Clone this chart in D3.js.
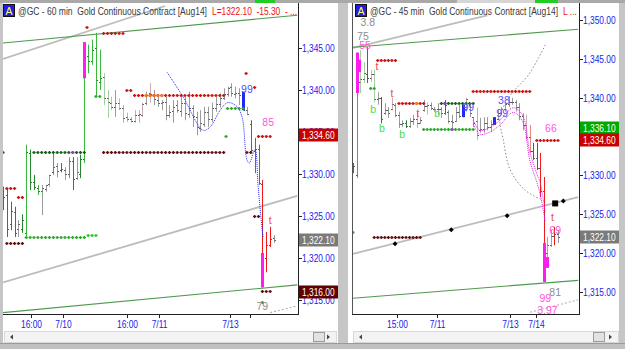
<!DOCTYPE html>
<html>
<head>
<meta charset="utf-8">
<script src="https://cdn.jsdelivr.net/npm/d3@7"></script>
<style>
  body { margin: 0; background: #c6c6c6; }
  svg { display: block; font-family: 'Liberation Sans', Arial, sans-serif; }
  .pre { white-space: pre; }
</style>
</head>
<body>
<script>
// ---- 60 min panel: one entry per bar ----
const leftHigh = [
  1328.5, 1328.3, 1326.7, 1326.1, 1324.5, 1325.2, 1333.5, 1332.9, 1329.9, 1328.7,
  1328.7, 1328.7, 1329.9, 1332.5, 1331.3, 1331.3, 1330.8, 1332.0, 1332.0, 1332.0,
  1332.3, 1345.7, 1345.4, 1346.0, 1346.8, 1344.8, 1342.0, 1340.0, 1339.2, 1340.0,
  1339.0, 1338.2, 1337.3, 1336.8, 1337.6, 1337.6, 1338.5, 1339.8, 1340.8, 1340.0,
  1339.2, 1338.8, 1339.2, 1338.2, 1338.8, 1338.8, 1339.2, 1339.2, 1339.8, 1338.2,
  1337.4, 1337.6, 1338.0, 1338.0, 1338.5, 1339.2, 1339.6, 1340.2, 1340.4, 1340.8,
  1340.4, 1340.2, 1339.8, 1338.0, 1336.4, 1334.3, 1333.5, 1329.3, 1323.1, 1323.7,
  1322.7
];
const leftLow = [
  1325.7, 1322.5, 1323.3, 1322.5, 1322.5, 1323.0, 1322.5, 1328.1, 1328.1, 1327.5,
  1325.1, 1327.9, 1328.5, 1329.9, 1329.6, 1330.2, 1329.3, 1329.5, 1328.1, 1329.3,
  1329.5, 1331.3, 1342.0, 1343.0, 1339.2, 1340.0, 1338.2, 1336.7, 1337.6, 1336.8,
  1337.6, 1336.1, 1336.2, 1336.1, 1336.1, 1336.1, 1336.8, 1338.2, 1338.5, 1338.2,
  1338.0, 1337.6, 1336.4, 1336.7, 1336.1, 1337.3, 1336.8, 1336.4, 1336.7, 1335.6,
  1334.6, 1335.0, 1335.6, 1335.6, 1336.2, 1337.4, 1337.9, 1338.8, 1339.2, 1339.2,
  1339.0, 1338.2, 1337.6, 1337.0, 1332.5, 1330.1, 1328.7, 1316.5, 1318.3, 1321.3,
  1321.8
];
const leftOpen = [
  1326.5, 1327.5, 1324.0, 1325.5, 1323.5, 1323.5, 1323.0, 1332.5, 1329.0, 1328.3,
  1328.0, 1328.2, 1328.8, 1330.2, 1331.0, 1330.5, 1330.5, 1330.0, 1331.5, 1329.5,
  1330.0, 1331.8, 1344.0, 1343.5, 1345.0, 1341.0, 1341.5, 1339.0, 1338.5, 1338.0,
  1338.5, 1337.8, 1336.8, 1336.5, 1336.3, 1337.0, 1337.0, 1338.5, 1339.6, 1339.5,
  1338.8, 1338.4, 1338.6, 1337.0, 1337.5, 1338.2, 1337.5, 1338.5, 1337.2, 1337.8,
  1336.8, 1335.5, 1336.0, 1337.4, 1336.5, 1337.8, 1338.3, 1339.0, 1339.5, 1340.3,
  1339.5, 1339.6, 1339.5, 1337.6, 1336.0, 1332.7, 1333.0, 1328.8, 1320.0, 1321.6,
  1322.4
];
const leftClose = [
  1327.3, 1323.5, 1325.6, 1323.0, 1324.0, 1324.5, 1332.6, 1329.0, 1328.5, 1328.0,
  1328.3, 1328.7, 1329.9, 1330.8, 1330.4, 1330.6, 1330.0, 1331.6, 1329.4, 1330.2,
  1331.8, 1344.2, 1343.4, 1344.8, 1341.2, 1341.4, 1339.0, 1338.6, 1338.0, 1338.4,
  1337.8, 1336.7, 1336.5, 1336.3, 1337.0, 1337.1, 1338.3, 1339.4, 1339.5, 1338.9,
  1338.4, 1338.6, 1337.0, 1337.4, 1338.0, 1337.6, 1338.4, 1337.3, 1337.9, 1336.9,
  1335.6, 1336.1, 1337.4, 1336.5, 1337.9, 1338.3, 1339.0, 1339.5, 1340.2, 1339.6,
  1339.6, 1339.4, 1337.6, 1337.2, 1332.8, 1333.0, 1328.9, 1320.2, 1321.5, 1322.3,
  1322.1
];
const leftState = ('DDDDkDgDDg' + 'kkkgkDkgDk' + 'Dggggglllk' + 'lppppppkpk' +
  'kkkkkkkkkk' + 'kkkkkkkkkk' + 'kkkkmmmrrr' + 'k').split('');

// ---- 45 min panel ----
const rightHigh = [
  1331.6, 1345.8, 1346.1, 1344.6, 1346.5, 1343.6, 1343.6, 1340.7, 1340.1, 1339.3,
  1338.8, 1340.0, 1339.3, 1338.2, 1337.1, 1337.1, 1337.4, 1337.8, 1338.2, 1337.5,
  1339.7, 1339.4, 1339.4, 1338.8, 1339.3, 1338.8, 1339.7, 1338.4, 1337.8, 1338.8,
  1339.1, 1339.1, 1340.0, 1339.3, 1337.5, 1338.7, 1337.4, 1337.5, 1337.5, 1337.1,
  1337.5, 1338.4, 1338.8, 1339.4, 1340.1, 1340.0, 1339.7, 1339.3, 1338.0, 1337.8,
  1336.5, 1334.2, 1334.2, 1332.9, 1329.8, 1322.1, 1323.0, 1323.4, 1323.0
];
const rightLow = [
  1330.3, 1329.7, 1340.6, 1341.9, 1341.9, 1342.0, 1339.4, 1339.1, 1336.7, 1337.8,
  1337.4, 1338.4, 1337.5, 1336.1, 1336.2, 1336.1, 1336.1, 1336.5, 1336.1, 1336.7,
  1338.2, 1337.8, 1338.4, 1338.2, 1337.8, 1337.4, 1337.8, 1336.7, 1336.1, 1336.9,
  1337.4, 1337.5, 1338.2, 1337.5, 1336.2, 1334.6, 1335.5, 1335.5, 1335.8, 1335.6,
  1336.5, 1337.1, 1337.8, 1338.2, 1338.8, 1339.1, 1338.2, 1337.1, 1335.8, 1334.6,
  1332.9, 1332.0, 1330.7, 1327.2, 1316.3, 1319.1, 1320.8, 1321.0, 1321.3
];
const rightOpen = [
  1330.5, 1330.0, 1342.0, 1342.4, 1343.0, 1342.6, 1343.0, 1339.8, 1340.0, 1338.0,
  1338.4, 1338.6, 1339.0, 1337.8, 1336.6, 1336.8, 1336.4, 1337.0, 1337.2, 1336.8,
  1338.4, 1338.9, 1339.0, 1338.6, 1338.5, 1338.6, 1338.0, 1338.2, 1337.0, 1337.0,
  1338.2, 1337.7, 1338.5, 1339.0, 1337.5, 1337.0, 1335.8, 1336.0, 1336.8, 1336.2,
  1336.6, 1337.2, 1338.0, 1338.5, 1339.2, 1339.4, 1339.5, 1338.8, 1337.6, 1336.5,
  1335.0, 1333.2, 1332.3, 1331.0, 1328.0, 1320.0, 1321.0, 1322.2, 1322.4
];
const rightClose = [
  1331.2, 1345.0, 1342.4, 1343.2, 1342.6, 1343.0, 1339.8, 1340.0, 1337.2, 1338.4,
  1338.0, 1339.2, 1337.8, 1336.6, 1336.8, 1336.4, 1337.0, 1337.2, 1336.7, 1337.1,
  1338.9, 1339.0, 1338.7, 1338.5, 1338.6, 1338.0, 1339.0, 1337.0, 1336.9, 1338.2,
  1337.7, 1338.3, 1339.8, 1338.0, 1336.8, 1335.2, 1336.0, 1336.8, 1336.2, 1336.6,
  1337.0, 1338.0, 1338.5, 1339.2, 1339.4, 1339.5, 1338.8, 1337.6, 1336.5, 1335.0,
  1333.2, 1332.3, 1331.0, 1328.0, 1316.8, 1321.0, 1322.2, 1322.4, 1322.1
];
const rightState = ('DgllDllkDk' + 'kpkkkDkkpk' + 'klkkkkDkkk' + 'kkpkkpkkkk' +
  'kkkkkkkkkp' + 'PrrrrPPrk').split('');

// highlighted bar segments: [bar, top, bottom, kind]
const leftSpikes = [[21, 1345.7, 1341.4, 'mag'], [67, 1320.6, 1316.5, 'mag'], [62, 1339.8, 1337.6, 'blue']];
const rightSpikes = [
  [1, 1345.8, 1340.6, 'mag'], [1.8, 1344.9, 1343.3, 'mag'], [54, 1321.3, 1316.3, 'mag'],
  [54.9, 1319.5, 1318.1, 'mag'], [31, 1339.1, 1337.5, 'blue'], [40, 1337.5, 1336.5, 'blue']
];

// dotted level rows: [fromBar, toBar, price, kind]
const leftMarks = [
  [1, 3, 1328.3, 'res'], [4, 5, 1327.3, 'res'], [1, 5, 1321.8, 'base'],
  [6, 21, 1322.5, 'sup'], [22, 24, 1322.7, 'fresh'], [0, 0, 1332.6, 'hold'],
  [8, 21, 1332.6, 'hold'], [18, 18, 1332.6, 'pivot'], [26, 57, 1332.6, 'base'],
  [63, 64, 1332.6, 'base'], [24, 25, 1339.3, 'sup'], [32, 33, 1340.0, 'res'],
  [34, 57, 1339.4, 'res'], [37, 41, 1339.4, 'alt'], [26, 31, 1346.8, 'res'],
  [21.7, 21.7, 1347.5, 'res'], [58, 62, 1337.9, 'sup'], [57.6, 57.6, 1334.5, 'sup'],
  [62.8, 62.8, 1342.0, 'res'], [65, 65, 1340.4, 'res'], [66, 69, 1334.5, 'res'],
  [65, 66, 1325.0, 'base'], [67, 69, 1316.1, 'base'], [67, 67, 1314.8, 'sup']
];
const rightMarks = [
  [7, 12, 1344.9, 'res'], [13, 20, 1339.3, 'res'], [18, 18, 1339.3, 'alt'],
  [25, 34, 1339.3, 'hold'], [26, 26, 1339.3, 'pivot'], [20, 34, 1336.0, 'sup'],
  [28, 28, 1336.0, 'pivot'], [5, 6, 1341.2, 'sup'], [34, 50, 1340.9, 'res'],
  [52, 58, 1334.6, 'res'], [6, 19, 1322.1, 'base'], [0, 0, 1322.7, 'sup']
];

// study labels: [bar, price, text, kind]
const leftNotes = [
  [63, 1340.1, '99', 'cnt'], [68.5, 1336.2, '85', 'pct'], [69, 1324.5, 't', 't'], [67, 1314.2, '79', 'gray']
];
const rightNotes = [
  [6.8, 1344.0, 't', 't'], [11, 1340.6, 't', 't'], [18.4, 1338.0, 't', 't'], [56.4, 1324.6, 't', 't'],
  [5.7, 1338.5, 'b', 'b'], [8.2, 1336.0, 'b', 'b'], [13.9, 1335.3, 'b', 'b'], [23.8, 1338.0, 'b', 'b'],
  [32.6, 1338.8, '99', 'cnt'], [42.7, 1339.7, '38', 'cnt'], [42.2, 1338.0, '99', 'cnt'],
  [56, 1336.1, '66', 'pct'], [57.2, 1323.0, '69', 'pct'],
  [54.4, 1314.2, '99', 'pct'], [57.2, 1314.9, '81', 'gray'], [55, 1312.7, '3.97', 'pct'],
  [4.2, 1349.7, '3.8', 'gray'], [2.8, 1347.9, '75', 'gray'], [3.4, 1346.8, '55', 'pct']
];

// trend lines: [bar1, price1, bar2, price2, kind]
const leftTrends = [
  [0, 1317.1, 76, 1327.4, 'reg'], [0, 1343.7, 41.9, 1350.0, 'reg'],
  [0, 1345.6, 76, 1348.9, 'chan'], [0, 1313.5, 76, 1316.8, 'chan'], [69, 1313.5, 76, 1314.3, 'proj']
];
const rightTrends = [
  [0, 1319.9, 63.7, 1327.2, 'reg'], [0, 1346.4, 38, 1350.6, 'reg'],
  [0, 1346.5, 63.7, 1348.8, 'chan'], [0, 1314.2, 63.7, 1316.5, 'chan'], [50.1, 1312.4, 63.7, 1314.0, 'proj']
];
const rightPivotBar = [11.9, 27.8, 43.6, 59.5];
const rightPivotPrice = [1321.2, 1323.0, 1324.8, 1326.7];
const rightBox = [57.2, 1326.4];

// curves
const leftAvgBar = [42.4, 46.5, 51.7, 53.5, 56.1, 58.1, 60.5, 61.8, 63.0, 63.6, 65.1, 65.9, 66.9, 67.2];
const leftAvgPrice = [1342.1, 1339.2, 1335.2, 1335.6, 1337.6, 1338.5, 1338.0, 1336.7, 1331.7, 1331.3, 1332.9, 1328.5, 1323.6, 1322.5];
const rightArcBar = [54.4, 49.6, 44.5, 41.6, 42.5, 44.5, 48.7, 53.8];
const rightArcPrice = [1346.8, 1342.9, 1340.3, 1337.5, 1334.6, 1330.7, 1328.1, 1326.8];
const rightPinkBar = [34, 36, 38.8, 41.6, 45.3, 47.9, 50.1, 52.1, 53, 54.4];
const rightPinkPrice = [1337.1, 1335.8, 1336.2, 1337.1, 1338.7, 1337.8, 1332.9, 1330.1, 1329.0, 1325.2];
const rightPink2Price = [1336.6, 1335.3, 1335.6, 1336.5, 1338.1, 1337.0, 1331.8, 1329.0, 1327.5, 1324.0];

// axes
const leftTickBar = [7.2, 15.5, 32, 40.3, 58.7, 63.8];
const leftTickLabel = ['16:00', '7/10', '16:00', '7/11', '7/13', ''];
const rightTickBar = [12.5, 23.8, 44.5, 51.8];
const rightTickLabel = ['15:00', '7/11', '7/13', '7/14'];
const leftPriceTicks = [1315, 1320, 1325, 1330, 1335, 1340, 1345];
const rightPriceTicks = [1315, 1320, 1325, 1330, 1335, 1340, 1345, 1350];
const leftFlags = [[1334.6, 'stop'], [1322.1, 'last'], [1316.0, 'low']];
const rightFlags = [[1336.1, 'bid'], [1334.6, 'stop'], [1322.1, 'last']];

const barColor = { D: '#23882b', g: '#38b838', l: '#a3cfa3', k: '#9b9b9b', p: '#c5abb4', m: '#b34747', r: '#f01818', P: '#f08585' };
const markColor = { res: '#c81414', sup: '#2ea82e', fresh: '#22cc22', hold: '#1b5e1b', base: '#5e1010', alt: '#ee7a1e', pivot: '#9a3ad8' };
const noteColor = { t: '#f04848', b: '#44dd44', cnt: '#5050ff', pct: '#ff55dd', gray: '#8c8c8c' };
const flagColor = { stop: '#c80000', last: '#7a7a7a', low: '#600000', bid: '#00a800' };

const svg = d3.select('body').append('svg').attr('width', 625).attr('height', 349);

svg.append('rect').attr('width', 625).attr('height', 349).attr('fill', '#c6c6c6');
// top strip
svg.append('rect').attr('x', 0).attr('y', 0).attr('width', 625).attr('height', 3).attr('fill', '#a9a9a9');
svg.append('rect').attr('x', 255).attr('y', 0).attr('width', 20).attr('height', 3).attr('fill', '#22cc22');
svg.append('rect').attr('x', 457).attr('y', 0).attr('width', 78).attr('height', 3).attr('fill', '#d6d6d6');
svg.append('rect').attr('x', 535).attr('y', 0).attr('width', 23).attr('height', 3).attr('fill', '#22cc22');

const panels = [
  {
    box: [3, 3, 335, 340], plot: [3, 298, 3, 314],
    xDomain: [0, 70], xRange: [3, 274], yDomain: [1315, 1345], yRange: [300, 48],
    high: leftHigh, low: leftLow, open: leftOpen, close: leftClose, state: leftState,
    spikes: leftSpikes, marks: leftMarks, notes: leftNotes, trends: leftTrends,
    tickBar: leftTickBar, tickLabel: leftTickLabel, priceTicks: leftPriceTicks, flags: leftFlags,
    title: '@GC - 60 min  Gold Continuous Contract [Aug14]', titleX: 18, titleLen: 189,
    quote: 'L=1322.10  -15.30  - ...', quoteX: 212, quoteLen: 85,
    scroll: [4, 336], thumb: 313
  },
  {
    box: [348, 3, 271, 340], plot: [352, 579, 3, 314],
    xDomain: [0, 58], xRange: [353, 558], yDomain: [1315, 1350], yRange: [292, 20],
    high: rightHigh, low: rightLow, open: rightOpen, close: rightClose, state: rightState,
    spikes: rightSpikes, marks: rightMarks, notes: rightNotes, trends: rightTrends,
    tickBar: rightTickBar, tickLabel: rightTickLabel, priceTicks: rightPriceTicks, flags: rightFlags,
    title: '@GC - 45 min  Gold Continuous Contract [Aug14]', titleX: 370, titleLen: 188,
    quote: 'L ...', quoteX: 563, quoteLen: 14,
    scroll: [353, 618], thumb: 593
  }
];

panels.forEach((p, k) => {
  const g = svg.append('g');
  const [px0, px1, py0, py1] = p.plot;
  const x = d3.scaleLinear().domain(p.xDomain).range(p.xRange);
  const y = d3.scaleLinear().domain(p.yDomain).range(p.yRange);

  g.append('rect').attr('x', p.box[0]).attr('y', p.box[1]).attr('width', p.box[2]).attr('height', p.box[3]).attr('fill', '#fff');

  const clipId = `clip${k}`;
  svg.append('clipPath').attr('id', clipId)
    .append('rect').attr('x', px0).attr('y', py0).attr('width', px1 - px0).attr('height', py1 - py0);
  const plot = g.append('g').attr('clip-path', `url(#${clipId})`);

  // trend lines
  plot.selectAll('.trend').data(p.trends).join('line')
    .attr('x1', d => x(d[0])).attr('y1', d => y(d[1]))
    .attr('x2', d => x(d[2])).attr('y2', d => y(d[3]))
    .attr('stroke', d => d[4] === 'chan' ? '#4f9a4f' : d[4] === 'reg' ? '#bcbcbc' : '#b0b0b0')
    .attr('stroke-width', d => d[4] === 'reg' ? 1.8 : 1.1)
    .attr('stroke-dasharray', d => d[4] === 'proj' ? '2,2' : null);

  // bars
  const idx = d3.range(p.high.length);
  const px = i => Math.round(x(i)) + 0.5;
  plot.selectAll('.bar').data(idx).join('line')
    .attr('x1', px).attr('x2', px)
    .attr('y1', i => y(p.high[i])).attr('y2', i => y(p.low[i]))
    .attr('stroke', i => barColor[p.state[i]]).attr('stroke-width', 1);
  plot.selectAll('.open').data(idx).join('line')
    .attr('x1', i => px(i) - 1.5).attr('x2', i => px(i))
    .attr('y1', i => Math.round(y(p.open[i])) + 0.5).attr('y2', i => Math.round(y(p.open[i])) + 0.5)
    .attr('stroke', '#5a5a5a');
  plot.selectAll('.close').data(idx).join('line')
    .attr('x1', i => px(i)).attr('x2', i => px(i) + 1.5)
    .attr('y1', i => Math.round(y(p.close[i])) + 0.5).attr('y2', i => Math.round(y(p.close[i])) + 0.5)
    .attr('stroke', '#5a5a5a');

  plot.selectAll('.spike').data(p.spikes).join('rect')
    .attr('x', d => Math.round(x(d[0])) - 1).attr('width', 3)
    .attr('y', d => y(d[1])).attr('height', d => y(d[2]) - y(d[1]))
    .attr('fill', d => d[3] === 'mag' ? '#ff1cf0' : '#1d2cf0');

  // dotted levels
  const dots = [];
  p.marks.forEach(m => {
    for (let i = m[0]; i <= m[1] + 1e-6; i += 1) dots.push([i, m[2], m[3]]);
  });
  plot.selectAll('.mark').data(dots).join('path')
    .attr('d', d => {
      const cx = x(d[0]), cy = Math.round(y(d[1])) + 0.5;
      return `M${cx - 1.6},${cy}h3.2M${cx},${cy - 1.6}v3.2`;
    })
    .attr('stroke', d => markColor[d[2]]).attr('stroke-width', 1.3);

  // notes
  plot.selectAll('.note').data(p.notes).join('text')
    .attr('x', d => x(d[0])).attr('y', d => y(d[1])).attr('dy', '0.35em')
    .attr('text-anchor', 'middle').attr('font-size', 10.5)
    .attr('fill', d => noteColor[d[3]]).text(d => d[2]);

  // axes frame
  g.append('line').attr('x1', px1 + 0.5).attr('x2', px1 + 0.5).attr('y1', py0).attr('y2', py1)
    .attr('stroke', '#222');
  g.append('line').attr('x1', px0).attr('x2', px1 + 1).attr('y1', py1 + 0.5).attr('y2', py1 + 0.5)
    .attr('stroke', '#222');
  if (k === 1) {
    g.append('line').attr('x1', px0 + 0.5).attr('x2', px0 + 0.5).attr('y1', py0).attr('y2', py1)
      .attr('stroke', '#555');
  }

  // price axis
  const yt = g.selectAll('.yt').data(p.priceTicks).join('g')
    .attr('transform', d => `translate(${px1},${Math.round(y(d)) + 0.5})`);
  yt.append('line').attr('x1', 0).attr('x2', 4).attr('stroke', '#222');
  yt.append('text').attr('class', 'sq').attr('x', 4).attr('dy', '0.35em')
    .attr('font-size', 10.5).attr('fill', '#1a1aee').text(d => d3.format(',.2f')(d));

  const fl = g.selectAll('.flag').data(p.flags).join('g')
    .attr('transform', d => `translate(${px1 + 1},${Math.round(y(d[0]))})`);
  fl.append('rect').attr('x', 0).attr('y', -6.5).attr('width', 39).attr('height', 13)
    .attr('fill', d => flagColor[d[1]]);
  fl.append('text').attr('class', 'sq').attr('x', 3).attr('dy', '0.36em')
    .attr('font-size', 10.5).attr('fill', '#fff').text(d => d3.format(',.2f')(d[0]));

  // time axis
  const xt = g.selectAll('.xt').data(p.tickBar).join('g')
    .attr('transform', d => `translate(${Math.round(x(d)) + 0.5},${py1})`);
  xt.append('line').attr('y1', 0).attr('y2', 4).attr('stroke', '#222');
  xt.append('text').attr('class', 'sq').attr('y', 14).attr('text-anchor', 'middle')
    .attr('font-size', 10.5).attr('fill', '#1a1aee').text((d, i) => p.tickLabel[i]);

  // scrollbar
  const [s0, s1] = p.scroll;
  g.append('rect').attr('x', s0 + 0.5).attr('y', 331.5).attr('width', s1 - s0).attr('height', 11)
    .attr('fill', '#f3f3f3').attr('stroke', '#d8d8d8');
  g.append('path').attr('d', `M${s0 + 6},337 l3,-2.5 v5z`).attr('fill', '#444');
  g.append('path').attr('d', `M${s1 - 6},337 l-3,-2.5 v5z`).attr('fill', '#444');
  g.append('rect').attr('x', p.thumb + 0.5).attr('y', 332.5).attr('width', 11).attr('height', 9)
    .attr('fill', '#e2e2e2').attr('stroke', '#9c9c9c');

  // title
  g.append('rect').attr('x', p.titleX - 14.5).attr('y', 4.5).attr('width', 11).attr('height', 12)
    .attr('fill', '#1f1fe0').attr('stroke', '#111');
  g.append('text').attr('x', p.titleX - 9).attr('y', 14.5).attr('text-anchor', 'middle')
    .attr('font-size', 10.5).attr('fill', '#ffff66').text('A');
  g.append('text').attr('class', 'pre').attr('x', p.titleX).attr('y', 15).attr('font-size', 10.5).attr('fill', '#3a3a3a')
    .attr('textLength', p.titleLen).attr('lengthAdjust', 'spacingAndGlyphs').text(p.title);
  g.append('text').attr('class', 'pre').attr('x', p.quoteX).attr('y', 15).attr('font-size', 10.5).attr('fill', '#ee1111')
    .attr('textLength', p.quoteLen).attr('lengthAdjust', 'spacingAndGlyphs').text(p.quote);

  if (k === 0) {
    plot.append('path')
      .attr('d', d3.line().x(i => x(leftAvgBar[i])).y(i => y(leftAvgPrice[i])).curve(d3.curveCatmullRom)(d3.range(leftAvgBar.length)))
      .attr('fill', 'none').attr('stroke', '#2a2aee').attr('stroke-width', 1).attr('stroke-dasharray', '1,1');
  } else {
    plot.append('path')
      .attr('d', d3.line().x(i => x(rightArcBar[i])).y(i => y(rightArcPrice[i])).curve(d3.curveCatmullRom)(d3.range(rightArcBar.length)))
      .attr('fill', 'none').attr('stroke', '#8a8a8a').attr('stroke-width', 1).attr('stroke-dasharray', '1.5,2');
    [rightPinkPrice, rightPink2Price].forEach(arr => {
      plot.append('path')
        .attr('d', d3.line().x(i => x(rightPinkBar[i])).y(i => y(arr[i])).curve(d3.curveCatmullRom)(d3.range(rightPinkBar.length)))
        .attr('fill', 'none').attr('stroke', '#e020e0').attr('stroke-width', 1).attr('stroke-dasharray', '1,1');
    });
    plot.selectAll('.piv').data(rightPivotBar).join('path')
      .attr('d', (d, i) => {
        const cx = x(d), cy = y(rightPivotPrice[i]);
        return `M${cx - 2.5},${cy}L${cx},${cy - 2.5}L${cx + 2.5},${cy}L${cx},${cy + 2.5}Z`;
      })
      .attr('fill', '#000');
    plot.append('rect').attr('x', x(rightBox[0]) - 3).attr('y', y(rightBox[1]) - 3)
      .attr('width', 6).attr('height', 6).attr('fill', '#000');
  }
});

// narrow the axis fonts like the original terminal font
svg.selectAll('text.sq').each(function () {
  const w = this.getComputedTextLength();
  if (w > 0) d3.select(this).attr('textLength', w * 0.8).attr('lengthAdjust', 'spacingAndGlyphs');
});

// bottom frame strip
svg.append('rect').attr('x', 0).attr('y', 343).attr('width', 625).attr('height', 6).attr('fill', '#c0c0c0');
svg.append('line').attr('x1', 0).attr('x2', 625).attr('y1', 343.5).attr('y2', 343.5).attr('stroke', '#9a9a9a');
</script>
</body>
</html>
